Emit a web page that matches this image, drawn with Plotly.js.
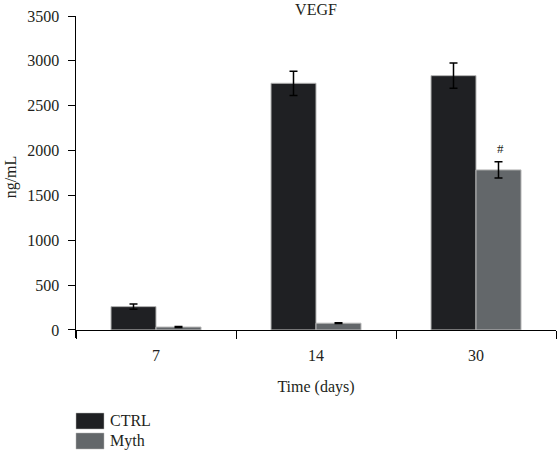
<!DOCTYPE html>
<html>
<head>
<meta charset="utf-8">
<script src="https://cdn.plot.ly/plotly-3.0.1.min.js"></script>
<style>html,body{margin:0;padding:0;background:#fff}#chart{width:557px;height:451px}</style>
</head>
<body>
<div id="chart"></div>
<script>
var days = ['7', '14', '30'];
var seriesNames = ['CTRL', 'Myth'];
var seriesColors = ['#1f2023', '#63676a'];
var ctrlValues = [260, 2750, 2835];
var ctrlErrors = [30, 135, 140];
var mythValues = [32, 75, 1784];
var mythErrors = [5, 4, 90];
var yTicks = [0, 500, 1000, 1500, 2000, 2500, 3000, 3500];

var serif = 'Liberation Serif, Times New Roman, serif';
var ink = '#231f20';
var fs = 16;

var traces = [
  {
    type: 'bar', name: seriesNames[0], x: days, y: ctrlValues, showlegend: false,
    marker: {color: seriesColors[0], line: {color: '#b5b5b5', width: 1}},
    error_y: {type: 'data', array: ctrlErrors, visible: true, color: '#000', thickness: 1.5, width: 4}
  },
  {
    type: 'bar', name: seriesNames[1], x: days, y: mythValues, showlegend: false,
    marker: {color: seriesColors[1], line: {color: '#b5b5b5', width: 1}},
    error_y: {type: 'data', array: mythErrors, visible: true, color: '#000', thickness: 1.5, width: 4}
  }
];

// custom legend (swatch + label) in pixel-derived paper coordinates
var plotL = 76, plotW = 480, plotT = 16, plotH = 322;
function px2x(p) { return (p - plotL) / plotW; }
function py2y(p) { return (plotT + plotH - p) / plotH; }
var shapes = [], annotations = [];
var legendTops = [413, 433];
seriesNames.forEach(function (name, i) {
  var top = legendTops[i];
  shapes.push({type: 'rect', xref: 'paper', yref: 'paper',
    x0: px2x(76), x1: px2x(104), y0: py2y(top + 16), y1: py2y(top),
    fillcolor: seriesColors[i], line: {color: '#b5b5b5', width: 0.5}});
  annotations.push({xref: 'paper', yref: 'paper', x: px2x(108), y: py2y(top + 8),
    xanchor: 'left', yanchor: 'middle', text: name, showarrow: false,
    font: {family: serif, size: fs, color: ink}});
});
annotations.push({x: 2, y: 2018, xref: 'x', yref: 'y', text: '#', showarrow: false, xshift: 24,
  font: {family: serif, size: 13, color: ink}});

var layout = {
  width: 557, height: 451,
  margin: {l: 76, r: 1, t: 16, b: 113},
  paper_bgcolor: '#fff', plot_bgcolor: '#fff',
  font: {family: serif, size: fs, color: ink},
  barmode: 'group', bargap: 0.4375, bargroupgap: 0,
  title: {text: 'VEGF', font: {family: serif, size: fs, color: ink}, x: 0.5, xref: 'paper', y: 0.979, yref: 'container', yanchor: 'middle'},
  xaxis: {
    type: 'category', anchor: 'free', position: 0.0248, range: [-0.5, 2.5],
    showline: true, linecolor: '#000', linewidth: 1,
    ticks: 'outside', tickson: 'boundaries', ticklen: 8, tickcolor: '#000',
    ticklabelstandoff: 11,
    showgrid: false, zeroline: false, tickangle: 0,
    title: {text: 'Time (days)', font: {family: serif, size: fs, color: ink}, standoff: 17}
  },
  yaxis: {
    range: [-90, 3500], tickvals: yTicks, ticktext: yTicks.map(String),
    showline: true, linecolor: '#000', linewidth: 1.5,
    ticks: 'outside', ticklen: 7, tickcolor: '#000',
    ticklabelstandoff: 5,
    showgrid: false, zeroline: false,
    title: {text: 'ng/mL', font: {family: serif, size: fs, color: ink}, standoff: 6}
  },
  showlegend: false,
  shapes: shapes,
  annotations: annotations
};

Plotly.newPlot('chart', traces, layout, {displayModeBar: false, staticPlot: true});
</script>
</body>
</html>
